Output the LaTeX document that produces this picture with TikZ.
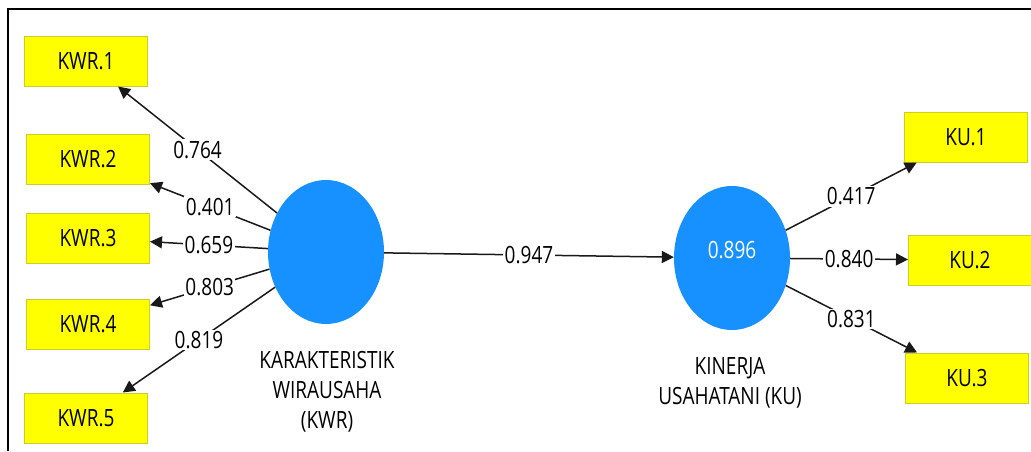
\documentclass[tikz,border=0pt]{standalone}
\usepackage{fontspec}
\setmainfont{Open Sans}
\usetikzlibrary{shapes.geometric,arrows.meta}
\definecolor{boxy}{RGB}{255,255,0}
\definecolor{boxline}{RGB}{205,205,40}
\definecolor{circ}{RGB}{22,145,255}
\definecolor{lin}{RGB}{25,25,25}
\newcommand{\sx}[1]{\scalebox{1}[1.25]{#1}}
\begin{document}
\begin{tikzpicture}[x=1pt,y=-1pt, font=\fontsize{19}{30}\selectfont,
  ind/.style={draw=boxline, fill=boxy, line width=1pt, minimum width=123pt, minimum height=50pt, inner sep=0pt},
  lat/.style={ellipse, fill=circ, minimum width=116pt, minimum height=144pt, inner sep=0pt},
  conn/.style={draw=lin, line width=1.5pt, -{Triangle[length=12pt,width=12pt]}},
  lbl/.style={fill=white, inner sep=1.5pt, text=black},
  latcap/.style={align=center, text=black}]
\useasboundingbox (0,0) rectangle (1031,451);
\draw[line width=2pt] (8,451) -- (8,9) -- (1031,9);
% indicators
\node[ind] (kwr1) at (86,61) {\sx{KWR.1}};
\node[ind] (kwr2) at (88,159) {\sx{KWR.2}};
\node[ind] (kwr3) at (88,238) {\sx{KWR.3}};
\node[ind] (kwr4) at (88,324) {\sx{KWR.4}};
\node[ind] (kwr5) at (86,418) {\sx{KWR.5}};
\node[ind] (ku1) at (966,137) {\sx{KU.1}};
\node[ind] (ku2) at (970,260) {\sx{KU.2}};
\node[ind] (ku3) at (967,378) {\sx{KU.3}};
% latent variables
\node[lat] (kwr) at (326,252) {};
\node[lat] (ku) at (732,258) {};
\node[text=white] (r2) at (732,250) {\sx{0.896}};
\node[latcap] (kwrcap) at (327,392) {\sx{KARAKTERISTIK}\\\sx{WIRAUSAHA}\\\sx{(KWR)}};
\node[latcap] (kucap) at (730,383) {\sx{KINERJA}\\\sx{USAHATANI (KU)}};
% connectors
\draw[conn] (kwr) -- node[lbl]{\sx{0.764}} (kwr1);
\draw[conn] (kwr) -- node[lbl]{\sx{0.401}} (kwr2);
\draw[conn] (kwr) -- node[lbl]{\sx{0.659}} (kwr3);
\draw[conn] (kwr) -- node[lbl]{\sx{0.803}} (kwr4);
\draw[conn] (kwr) -- node[lbl]{\sx{0.819}} (kwr5);
\draw[conn] (kwr) -- node[lbl]{\sx{0.947}} (ku);
\draw[conn] (ku) -- node[lbl]{\sx{0.417}} (ku1);
\draw[conn] (ku) -- node[lbl]{\sx{0.840}} (ku2);
\draw[conn] (ku) -- node[lbl]{\sx{0.831}} (ku3);
\end{tikzpicture}
\end{document}
